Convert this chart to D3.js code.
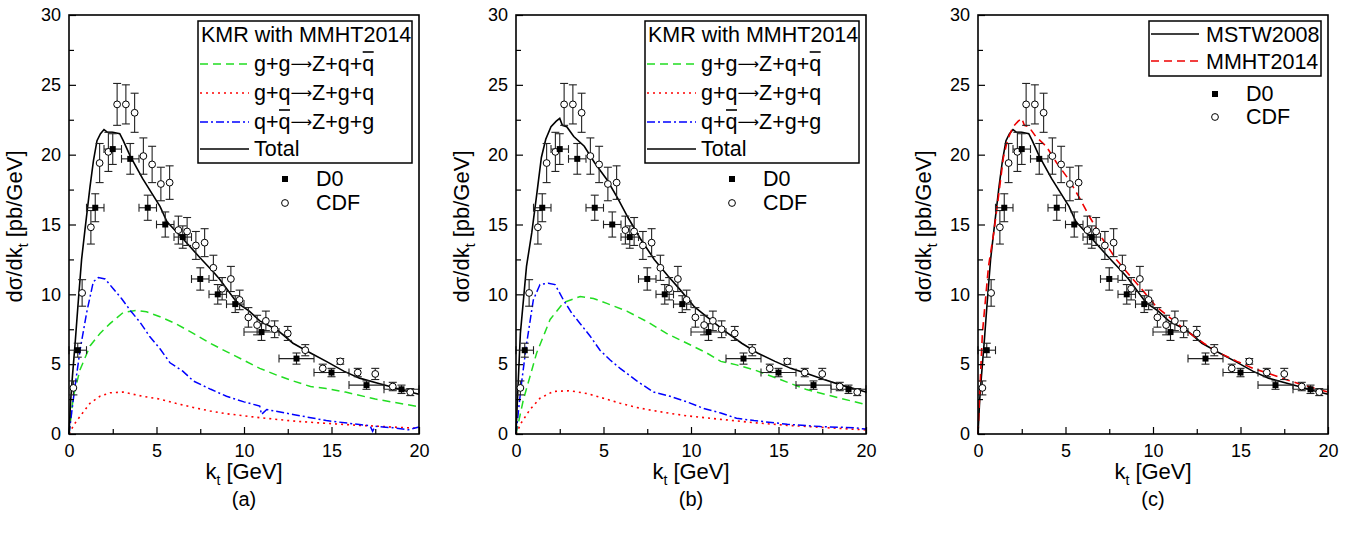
<!DOCTYPE html>
<html>
<head>
<meta charset="utf-8">
<script src="https://cdn.jsdelivr.net/npm/d3@7"></script>
<style>
body { margin: 0; background: #fff; }
text { font-family: "Liberation Sans", Arial, sans-serif; fill: #000; }
</style>
</head>
<body>
<div id="chart"></div>
<script>
// D0 data (filled squares), kt bins with x error bars
const d0Kt = [0.5, 1.5, 2.5, 3.5, 4.5, 5.5, 6.5, 7.5, 8.5, 9.5, 11, 13, 15, 17, 19];
const d0KtLo = [0, 1, 2, 3, 4, 5, 6, 7, 8, 9, 10, 12, 14, 16, 18];
const d0KtHi = [1, 2, 3, 4, 5, 6, 7, 8, 9, 10, 12, 14, 16, 18, 20];
const d0Val = [6.0, 16.2, 20.4, 19.7, 16.2, 15.0, 14.1, 11.1, 10.0, 9.3, 7.3, 5.4, 4.4, 3.5, 3.2];
const d0Err = [0.5, 1.0, 1.1, 1.1, 0.9, 0.9, 0.8, 0.8, 0.7, 0.6, 0.6, 0.4, 0.3, 0.3, 0.3];

// CDF data (open circles)
const cdfKt = [0.25, 0.75, 1.25, 1.75, 2.25, 2.75, 3.25, 3.75, 4.25, 4.75, 5.25, 5.75, 6.25, 6.75, 7.25, 7.75,
  8.25, 8.75, 9.25, 9.75, 10.25, 10.75, 11.25, 11.75, 12.5, 13.5, 14.5, 15.5, 16.5, 17.5, 18.5, 19.5];
const cdfVal = [3.3, 10.1, 14.8, 19.4, 20.2, 23.6, 23.6, 23.0, 19.9, 19.3, 17.9, 18.0, 14.6, 14.5, 13.5, 13.7,
  11.9, 10.4, 11.1, 9.6, 8.35, 7.8, 8.1, 7.5, 7.2, 6.0, 4.7, 5.2, 4.4, 4.3, 3.4, 3.0];
const cdfErr = [0.5, 0.95, 1.2, 1.4, 1.4, 1.5, 1.4, 1.4, 1.3, 1.3, 1.2, 1.2, 1.0, 1.0, 1.0, 1.0,
  0.9, 0.8, 0.9, 0.7, 0.7, 0.7, 0.7, 0.6, 0.5, 0.4, 0.3, 0.2, 0.3, 0.4, 0.3, 0.25];

// KMR with MSTW2008 total (panel a black, panel c black)
const mstwKt = [0, 0.1, 0.2, 0.35, 0.5, 0.72, 0.91, 1.2, 1.4, 1.6, 1.8, 2.0, 2.2, 2.5, 2.9, 3.1, 3.5, 4.2, 5.2,
  5.6, 6.5, 7.5, 8.25, 8.6, 9.6, 10.3, 10.9, 11.9, 12.8, 13.8, 14.7, 15.7, 16.6, 17.6, 18.5, 19.2, 20];
const mstwTotal = [0, 2.5, 4.2, 6.5, 9.0, 12.5, 14.6, 17.7, 19.6, 21.0, 21.5, 21.8, 21.6, 21.6, 21.5, 21.0, 19.9, 18.3, 16.3,
  15.2, 14.0, 12.6, 11.6, 11.1, 9.4, 8.8, 8.1, 7.45, 6.5, 5.8, 5.2, 4.5, 4.0, 3.65, 3.35, 3.1, 2.85];

// KMR with MMHT2014 total (panel b black, panel c red dashed)
const mmhtKt = [0, 0.1, 0.25, 0.6, 0.9, 1.2, 1.45, 1.7, 2.0, 2.3, 2.5, 2.65, 2.9, 3.3, 3.9, 4.5, 5.2, 5.8, 6.4,
  7.1, 7.9, 8.7, 9.4, 10.2, 11.0, 11.9, 12.9, 13.8, 14.8, 15.7, 16.7, 17.6, 18.6, 20];
const mmhtTotal = [0, 3.0, 7.2, 12.0, 14.4, 17.3, 19.8, 21.1, 22.0, 22.4, 22.6, 22.1, 22.0, 21.3, 20.6, 19.4, 18.2, 16.9, 15.5,
  14.0, 12.5, 11.3, 10.3, 9.1, 8.3, 7.4, 6.5, 5.8, 5.2, 4.7, 4.3, 3.9, 3.5, 3.0];

// panel (a) sub-processes
const ggKtA = [0, 0.25, 0.63, 1.2, 1.77, 2.34, 3.1, 3.86, 4.43, 5.2, 6.1, 7.1, 8.06, 9.0, 9.96, 10.9, 11.9, 12.8, 13.8, 14.7, 15.8, 17.5, 20];
const ggA = [0, 2.7, 4.6, 6.3, 7.2, 7.9, 8.7, 8.85, 8.75, 8.4, 7.9, 7.2, 6.5, 5.9, 5.3, 4.7, 4.2, 3.8, 3.4, 3.25, 3.0, 2.5, 1.95];
const gqKtA = [0, 0.3, 0.63, 1.2, 1.77, 2.34, 3.1, 4.2, 5.2, 6.1, 7.1, 8.06, 9.0, 10.9, 12.8, 14.7, 16.6, 18.5, 20];
const gqA = [0, 0.7, 1.26, 2.2, 2.7, 2.95, 3.0, 2.7, 2.5, 2.2, 1.9, 1.65, 1.45, 1.17, 0.93, 0.76, 0.62, 0.5, 0.4];
const qqKtA = [0, 0.3, 0.63, 1.01, 1.39, 1.68, 2.06, 2.53, 3.0, 3.5, 4.06, 4.6, 5.2, 5.77, 6.5, 7.1, 8.1, 9.0, 10.0,
  10.9, 11.0, 11.3, 12.8, 14.7, 16.6, 17.2, 17.35, 17.5, 18.5, 19.4, 20];
const qqA = [0, 3.0, 6.0, 8.7, 10.9, 11.2, 11.1, 10.4, 9.7, 8.85, 8.0, 7.0, 6.1, 5.1, 4.5, 3.8, 3.2, 2.7, 2.3,
  2.0, 1.4, 1.75, 1.4, 0.96, 0.68, 0.6, 0.2, 0.55, 0.45, 0.3, 0.5];

// panel (b) sub-processes
const ggKtB = [0, 0.42, 1.18, 1.95, 2.71, 3.67, 4.43, 5.19, 6.33, 7.48, 8.6, 9.77, 10.9, 11.7, 12.6, 13.6, 15.1, 16.6, 18.1, 20];
const ggB = [0, 2.45, 5.8, 8.2, 9.4, 9.85, 9.7, 9.35, 8.8, 8.05, 7.2, 6.5, 5.8, 5.2, 4.95, 4.6, 3.9, 3.18, 2.7, 2.1];
const gqKtB = [0, 0.3, 0.8, 1.37, 2.13, 3.09, 4.04, 5.0, 5.95, 6.9, 7.86, 8.8, 9.77, 11.7, 13.6, 15.5, 17.4, 20];
const gqB = [0, 0.8, 1.75, 2.56, 3.05, 3.1, 2.9, 2.56, 2.2, 1.9, 1.67, 1.48, 1.3, 1.05, 0.81, 0.62, 0.48, 0.29];
const qqKtB = [0, 0.3, 0.61, 0.99, 1.37, 1.85, 2.23, 2.71, 3.19, 3.67, 4.24, 4.8, 5.38, 5.95, 6.9, 7.86, 8.8, 9.77,
  10.7, 11.7, 12.6, 13.6, 15.5, 17.4, 19.3, 20];
const qqB = [0, 3.5, 6.5, 9.6, 10.7, 10.8, 10.7, 9.6, 8.65, 7.9, 7.0, 6.0, 5.3, 4.7, 3.8, 3.0, 2.7, 2.3,
  1.84, 1.5, 1.13, 0.96, 0.7, 0.53, 0.45, 0.35];

const xTicks = [0, 2.5, 5, 7.5, 10, 12.5, 15, 17.5, 20];
const yTicks = [0, 2.5, 5, 7.5, 10, 12.5, 15, 17.5, 20, 22.5, 25, 27.5, 30];

const width = 1363;
const height = 542;
const plotW = 350;
const plotTop = 15;
const plotBottom = 434;
const legendFont = '21.5px';

const svg = d3.select('#chart')
  .append('svg')
  .attr('width', width)
  .attr('height', height);

const xScale = d3.scaleLinear().domain([0, 20]).range([0, plotW]);
const yScale = d3.scaleLinear().domain([0, 30]).range([plotBottom, plotTop]);

const styles = {
  gg: { color: '#22dd22', dash: '8,5', width: 1.5 },
  gq: { color: '#ff0000', dash: '2,4', width: 1.6 },
  qq: { color: '#0000ff', dash: '8,3,2,3', width: 1.5 },
  total: { color: '#000', dash: null, width: 1.6 },
  mmht: { color: '#ee0000', dash: '8,5', width: 1.6 }
};

function curve(g, kts, vals, st) {
  const line = d3.line()
    .x((d, i) => xScale(kts[i]))
    .y(d => yScale(d));
  g.append('path')
    .datum(vals)
    .attr('d', line)
    .attr('fill', 'none')
    .attr('stroke', st.color)
    .attr('stroke-width', st.width)
    .attr('stroke-dasharray', st.dash);
}

function sample(g, x1, x2, y, st) {
  g.append('line')
    .attr('x1', x1).attr('x2', x2).attr('y1', y).attr('y2', y)
    .attr('stroke', st.color)
    .attr('stroke-width', st.width)
    .attr('stroke-dasharray', st.dash);
}

function drawData(g) {
  const ebar = g.append('g').attr('stroke', '#222').attr('stroke-width', 1.1);
  const cap = 4;
  // CDF error bars
  cdfKt.forEach((k, i) => {
    const x = xScale(k), y1 = yScale(cdfVal[i] - cdfErr[i]), y2 = yScale(cdfVal[i] + cdfErr[i]);
    ebar.append('line').attr('x1', x).attr('x2', x).attr('y1', y1).attr('y2', y2);
    ebar.append('line').attr('x1', x - cap).attr('x2', x + cap).attr('y1', y1).attr('y2', y1);
    ebar.append('line').attr('x1', x - cap).attr('x2', x + cap).attr('y1', y2).attr('y2', y2);
  });
  // D0 error bars
  d0Kt.forEach((k, i) => {
    const x = xScale(k), y = yScale(d0Val[i]);
    const y1 = yScale(d0Val[i] - d0Err[i]), y2 = yScale(d0Val[i] + d0Err[i]);
    const xa = xScale(d0KtLo[i]), xb = xScale(d0KtHi[i]);
    ebar.append('line').attr('x1', x).attr('x2', x).attr('y1', y1).attr('y2', y2);
    ebar.append('line').attr('x1', x - cap).attr('x2', x + cap).attr('y1', y1).attr('y2', y1);
    ebar.append('line').attr('x1', x - cap).attr('x2', x + cap).attr('y1', y2).attr('y2', y2);
    ebar.append('line').attr('x1', xa).attr('x2', xb).attr('y1', y).attr('y2', y);
    ebar.append('line').attr('x1', xa).attr('x2', xa).attr('y1', y - cap).attr('y2', y + cap);
    ebar.append('line').attr('x1', xb).attr('x2', xb).attr('y1', y - cap).attr('y2', y + cap);
  });
  g.selectAll('circle.cdf')
    .data(cdfKt)
    .enter()
    .append('circle')
    .attr('class', 'cdf')
    .attr('cx', d => xScale(d))
    .attr('cy', (d, i) => yScale(cdfVal[i]))
    .attr('r', 3.4)
    .attr('fill', '#fff')
    .attr('stroke', '#000')
    .attr('stroke-width', 1);
  g.selectAll('rect.d0')
    .data(d0Kt)
    .enter()
    .append('rect')
    .attr('class', 'd0')
    .attr('x', d => xScale(d) - 3)
    .attr('y', (d, i) => yScale(d0Val[i]) - 3)
    .attr('width', 6)
    .attr('height', 6)
    .attr('fill', '#000');
}

function drawAxes(g, label) {
  const xAxis = d3.axisBottom(xScale)
    .tickValues(xTicks)
    .tickSizeInner(-6)
    .tickSizeOuter(0)
    .tickPadding(10)
    .tickFormat(d => d % 5 === 0 ? d : '');
  const xg = g.append('g')
    .attr('transform', `translate(0, ${plotBottom})`)
    .call(xAxis);
  xg.selectAll('.tick line').attr('y2', d => d % 5 === 0 ? -7 : -5).attr('stroke-width', 1.2);

  const yAxis = d3.axisLeft(yScale)
    .tickValues(yTicks)
    .tickSizeInner(-6)
    .tickSizeOuter(0)
    .tickPadding(8)
    .tickFormat(d => d % 5 === 0 ? d : '');
  const yg = g.append('g').call(yAxis);
  yg.selectAll('.tick line').attr('x2', d => d % 5 === 0 ? 7 : 5).attr('stroke-width', 1.2);

  [xg, yg].forEach(a => {
    a.select('.domain').remove();
    a.selectAll('text')
      .style('font-size', '18px')
      .style('font-family', '"Liberation Sans", Arial, sans-serif')
      .attr('fill', '#000');
  });

  g.append('rect')
    .attr('x', 0).attr('y', plotTop)
    .attr('width', plotW).attr('height', plotBottom - plotTop)
    .attr('fill', 'none')
    .attr('stroke', '#000')
    .attr('stroke-width', 1.6);

  const xt = g.append('text')
    .attr('x', plotW / 2)
    .attr('y', 479)
    .attr('text-anchor', 'middle')
    .style('font-size', '22px');
  xt.append('tspan').text('k');
  xt.append('tspan').attr('dy', 6).style('font-size', '14px').text('t');
  xt.append('tspan').attr('dy', -6).text(' [GeV]');

  const yt = g.append('text')
    .attr('transform', `translate(-47, ${(plotTop + plotBottom) / 2 + 2}) rotate(-90)`)
    .attr('text-anchor', 'middle')
    .style('font-size', '22px');
  yt.append('tspan').text('dσ/dk');
  yt.append('tspan').attr('dy', 6).style('font-size', '14px').text('t');
  yt.append('tspan').attr('dy', -6).text(' [pb/GeV]');

  g.append('text')
    .attr('x', plotW / 2)
    .attr('y', 506)
    .attr('text-anchor', 'middle')
    .style('font-size', '20px')
    .text(label);
}

// process label: parts are [text, barred]; arrow drawn in DejaVu Sans
function procLabel(g, x, y, parts) {
  const t = g.append('text').attr('x', x).attr('y', y).style('font-size', legendFont);
  const bars = [];
  let idx = 0;
  parts.forEach(p => {
    const s = t.append('tspan').text(p[0]);
    if (p[0] === '⟶') {
      s.style('font-family', '"DejaVu Sans", sans-serif').style('font-size', '15px').attr('dy', -2);
    } else if (idx > 0 && parts[parts.indexOf(p) - 1][0] === '⟶') {
      s.attr('dy', 2);
    }
    if (p[1]) bars.push([idx, p[0].length]);
    idx += p[0].length;
  });
  const node = t.node();
  bars.forEach(b => {
    const x0 = x + node.getSubStringLength(0, b[0]);
    const w = node.getSubStringLength(b[0], b[1]);
    g.append('line')
      .attr('x1', x0 + 0.5).attr('x2', x0 + w - 0.5)
      .attr('y1', y - 19).attr('y2', y - 19)
      .attr('stroke', '#000').attr('stroke-width', 1.6);
  });
}

function drawKmrLegend(g) {
  const lg = g.append('g');
  lg.append('rect')
    .attr('x', 129).attr('y', 21).attr('width', 214).attr('height', 142)
    .attr('fill', '#fff').attr('stroke', '#000').attr('stroke-width', 1.5);
  lg.append('text').attr('x', 132).attr('y', 42).style('font-size', legendFont).text('KMR with MMHT2014');
  const rows = [
    { st: styles.gg, y: 64, parts: [['g+g'], ['⟶'], ['Z+q+'], ['q', true]] },
    { st: styles.gq, y: 93, parts: [['g+q'], ['⟶'], ['Z+g+q']] },
    { st: styles.qq, y: 122, parts: [['q+'], ['q', true], ['⟶'], ['Z+g+g']] },
    { st: styles.total, y: 149, parts: [['Total']] }
  ];
  rows.forEach(r => {
    sample(lg, 131, 180, r.y, r.st);
    procLabel(lg, 185, r.y + 7, r.parts);
  });
  dataLegend(lg, 216, 247, 179, 203);
}

function dataLegend(g, mx, tx, y1, y2) {
  g.append('rect').attr('x', mx - 3).attr('y', y1 - 3).attr('width', 6).attr('height', 6).attr('fill', '#000');
  g.append('text').attr('x', tx).attr('y', y1 + 7).style('font-size', legendFont).text('D0');
  g.append('circle').attr('cx', mx).attr('cy', y2).attr('r', 3.4)
    .attr('fill', '#fff').attr('stroke', '#000').attr('stroke-width', 1);
  g.append('text').attr('x', tx).attr('y', y2 + 7).style('font-size', legendFont).text('CDF');
}

// panel (a)
const ga = svg.append('g').attr('transform', 'translate(69, 0)');
curve(ga, ggKtA, ggA, styles.gg);
curve(ga, gqKtA, gqA, styles.gq);
curve(ga, qqKtA, qqA, styles.qq);
curve(ga, mstwKt, mstwTotal, styles.total);
drawData(ga);
drawAxes(ga, '(a)');
drawKmrLegend(ga);

// panel (b)
const gb = svg.append('g').attr('transform', 'translate(516, 0)');
curve(gb, ggKtB, ggB, styles.gg);
curve(gb, gqKtB, gqB, styles.gq);
curve(gb, qqKtB, qqB, styles.qq);
curve(gb, mmhtKt, mmhtTotal, styles.total);
drawData(gb);
drawAxes(gb, '(b)');
drawKmrLegend(gb);

// panel (c)
const gc = svg.append('g').attr('transform', 'translate(978, 0)');
curve(gc, mstwKt, mstwTotal, styles.total);
curve(gc, mmhtKt, mmhtTotal, styles.mmht);
drawData(gc);
drawAxes(gc, '(c)');
const lc = gc.append('g');
lc.append('rect')
  .attr('x', 171).attr('y', 21).attr('width', 172).attr('height', 55)
  .attr('fill', '#fff').attr('stroke', '#000').attr('stroke-width', 1.5);
sample(lc, 173, 221, 34, styles.total);
lc.append('text').attr('x', 228).attr('y', 42).style('font-size', legendFont).text('MSTW2008');
sample(lc, 173, 221, 61, styles.mmht);
lc.append('text').attr('x', 228).attr('y', 69).style('font-size', legendFont).text('MMHT2014');
dataLegend(lc, 237, 268, 94, 117);
</script>
</body>
</html>
